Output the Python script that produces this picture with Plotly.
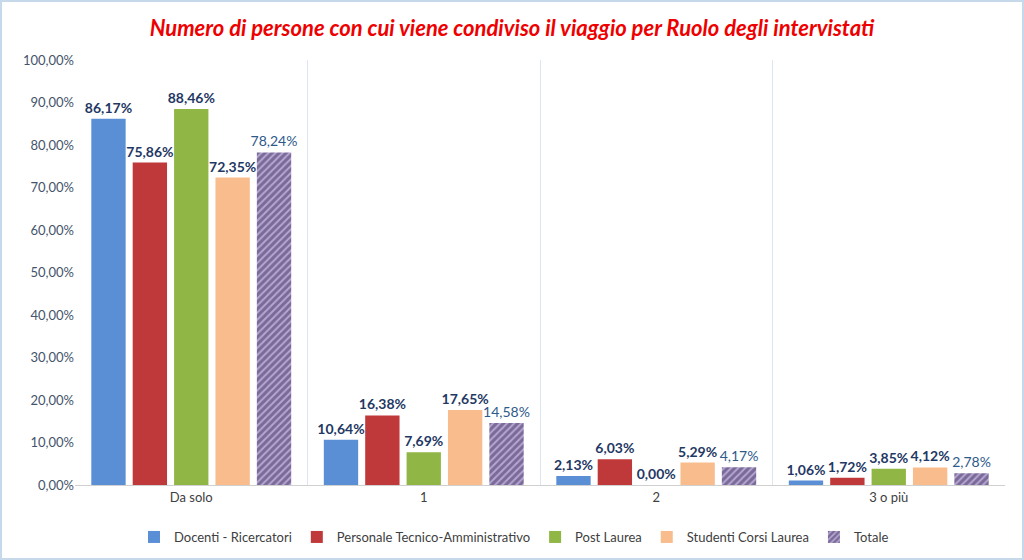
import plotly.graph_objects as go

categories = ["Da solo", "1", "2", "3 o più"]
series_names = ["Docenti - Ricercatori", "Personale Tecnico-Amministrativo",
                "Post Laurea", "Studenti Corsi Laurea", "Totale"]
docenti = [0.8617, 0.1064, 0.0213, 0.0106]
personale = [0.7586, 0.1638, 0.0603, 0.0172]
post_laurea = [0.8846, 0.0769, 0.0000, 0.0385]
studenti = [0.7235, 0.1765, 0.0529, 0.0412]
totale = [0.7824, 0.1458, 0.0417, 0.0278]
y_ticks = [i / 10 for i in range(11)]

colors = ["#5a8ed5", "#c0393a", "#90b645", "#f9bc8d"]
all_values = [docenti, personale, post_laurea, studenti]

def fmt(v):
    return f"{v*100:.2f}".replace(".", ",") + "%"

fig = go.Figure()
for name, vals, col in zip(series_names[:4], all_values, colors):
    fig.add_trace(go.Bar(
        x=categories, y=vals, name=name,
        marker=dict(color=col, line=dict(width=0)),
        text=[fmt(v) for v in vals], textposition="outside",
        textfont=dict(family="Lato", size=14, color="#1f3864", weight="bold"),
        constraintext="none", cliponaxis=False,
    ))
fig.add_trace(go.Bar(
    x=categories, y=totale, name=series_names[4],
    marker=dict(color="#b5a6d2", line=dict(width=0),
                pattern=dict(shape="/", fgcolor="#3f2d5c", bgcolor="#b5a6d2",
                             size=5, solidity=0.6)),
    text=[fmt(v) for v in totale], textposition="outside",
    textfont=dict(family="Lato", size=14, color="#2e5a8a"),
    constraintext="none", cliponaxis=False,
))

W, H = 1024, 560
ml, mr, mt, mb = 75, 19, 60, 75
pw, ph = W - ml - mr, H - mt - mb

fig.update_layout(
    width=W, height=H,
    margin=dict(l=ml, r=mr, t=mt, b=mb, autoexpand=False),
    paper_bgcolor="white", plot_bgcolor="white",
    separators=",.",
    barmode="group", bargap=0.11, bargroupgap=0.17,
    title=dict(text="<b><i>Numero di persone con cui viene condiviso il viaggio per Ruolo degli intervistati</i></b>",
               x=0.5, xanchor="center", y=1 - 28 / H, yanchor="middle",
               font=dict(family="Lato", size=22, color="#ee0000")),
    font=dict(family="Lato", size=13, color="#44546a"),
    legend=dict(orientation="h", xref="container", yref="container",
                x=514 / W, xanchor="center", y=1 - 537 / H,
                yanchor="middle", font=dict(family="Lato", size=13, color="#404040"),
                itemwidth=30, traceorder="normal"),
    xaxis=dict(type="category", tickson="boundaries", ticks="", showgrid=True,
               gridcolor="#dde5f0", gridwidth=1, showline=True, linecolor="#d0d0d0",
               tickfont=dict(family="Lato", size=13, color="#404040")),
    yaxis=dict(range=[0, 1], tickvals=y_ticks, tickformat=".2%", showgrid=False,
               zeroline=False, showline=False, ticks="",
               tickfont=dict(family="Lato", size=13, color="#44546a")),
    shapes=[dict(type="rect", xref="paper", yref="paper",
                 x0=-(ml - 1) / pw, x1=1 + (mr - 1) / pw,
                 y0=-(mb - 1) / ph, y1=1 + (mt - 1) / ph,
                 line=dict(color="#c5d9ea", width=2), layer="below")],
)
fig.write_html("out.html", config={"displayModeBar": False},
               post_script="document.body.style.margin='0';document.body.style.overflow='hidden';")
